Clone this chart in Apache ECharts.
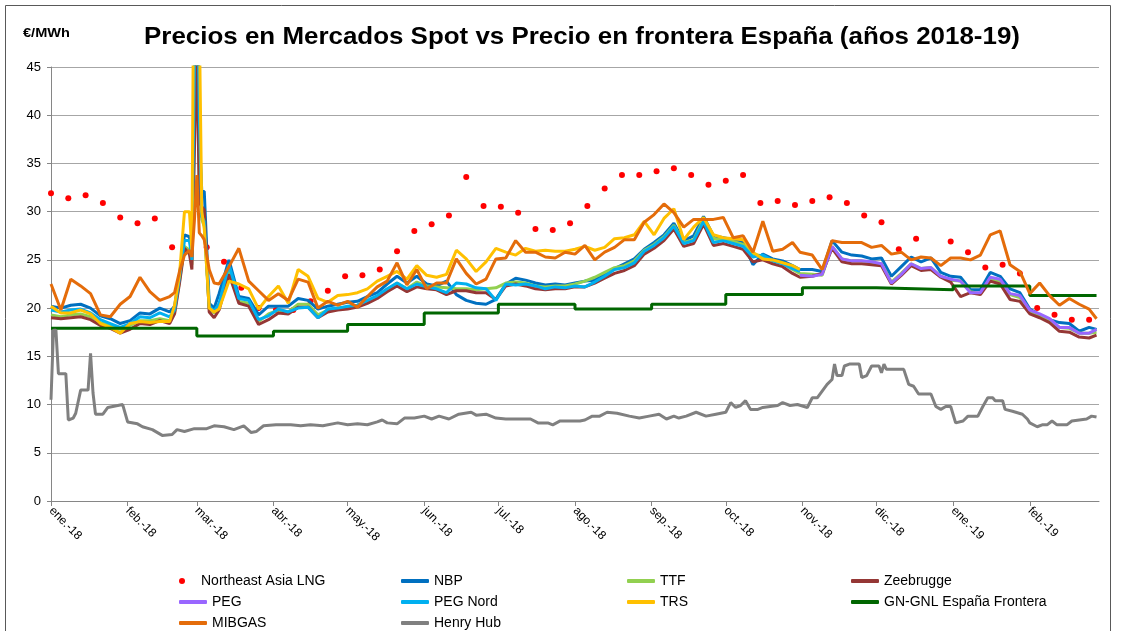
<!DOCTYPE html>
<html>
<head>
<meta charset="utf-8">
<title>Precios en Mercados Spot vs Precio en frontera España</title>
<script src="https://cdn.jsdelivr.net/npm/echarts@6/dist/echarts.min.js"></script>
<style>
	html, body { margin: 0; padding: 0; background: #fff; }
	#chartDiv { width: 1129px; height: 631px; }
</style>
</head>
<body>
<div id="chartDiv"></div>
<script>
	// dias contados desde el 1 de enero de 2018
	var monthStart = [0, 31, 59, 90, 120, 151, 181, 212, 243, 273, 304, 334, 365, 396];
	var monthLabels = ['ene.-18', 'feb.-18', 'mar.-18', 'abr.-18', 'may.-18', 'jun.-18', 'jul.-18',
		'ago.-18', 'sep.-18', 'oct.-18', 'nov.-18', 'dic.-18', 'ene.-19', 'feb.-19'];
	var lastDay = 424;

	// dias de muestreo de los hubs europeos y MIBGAS
	var hubDays = [0, 4, 8, 12, 16, 20, 24, 28, 32, 36, 40, 44, 48,
		50, 52, 54, 56, 57, 58, 59, 60, 61, 62, 64, 66, 68,
		72, 76, 80, 84, 88, 92, 96, 100, 104, 108,
		112, 116, 120, 124, 128, 132, 136, 140, 144, 148,
		152, 156, 160, 164, 168, 172, 176, 180, 184, 188,
		192, 196, 200, 204, 208, 212, 216, 220, 224, 228,
		232, 236, 240, 244, 248, 252, 256, 260, 264, 268,
		272, 276, 280, 284, 288, 292, 296, 300, 303,
		308, 312, 316, 320, 324, 328, 332, 336, 340, 344,
		348, 352, 356, 360, 364, 368, 372, 376, 380, 384,
		388, 392, 396, 400, 404, 408, 412, 416, 420, 423];

	var nbp = [20.2, 20.0, 20.3, 20.4, 20.0, 19.2, 18.9, 18.4, 18.7, 19.5, 19.4, 20.0, 19.6,
		20.2, 23.5, 27.6, 27.4, 25.5, 42, 55, 38, 32.1, 32.1, 20.5, 20.0, 21.5,
		25.0, 21.2, 21.0, 19.3, 20.2, 20.2, 20.2, 21.0, 20.8, 19.9,
		20.2, 20.4, 20.6, 20.7, 21.2, 21.6, 22.5, 23.3, 22.6, 23.3,
		22.5, 22.3, 22.8, 21.4, 20.8, 20.5, 20.4, 20.9, 22.5, 23.1,
		22.9, 22.6, 22.4, 22.5, 22.4, 22.6, 22.8, 22.9, 23.5, 24.1,
		24.6, 25.1, 26.1, 26.8, 27.6, 28.8, 27.0, 27.5, 29.5, 27.5,
		27.3, 27.1, 26.8, 24.5, 25.6, 25.1, 24.9, 24.4, 24.0,
		24.0, 23.8, 27.0, 25.8, 25.5, 25.4, 25.1, 25.2, 23.3, 24.3,
		25.3, 24.8, 25.2, 23.7, 23.3, 23.2, 21.9, 21.9, 23.7, 23.3,
		22.0, 21.6, 19.9, 19.3, 18.8, 18.5, 18.4, 17.6, 18.0, 17.8];

	var ttf = [19.3, 19.1, 19.3, 19.4, 19.1, 18.5, 18.2, 17.8, 18.2, 18.7, 18.7, 18.9, 18.7,
		19.6, 22.8, 26.4, 26.0, 24.5, 38, 50, 33, 29.2, 28.5, 19.9, 19.5, 20.0,
		23.8, 20.7, 20.5, 18.6, 19.4, 19.8, 19.6, 20.4, 20.4, 19.3,
		19.8, 20.0, 20.1, 20.3, 20.7, 21.2, 21.9, 22.6, 22.0, 22.7,
		22.3, 22.2, 22.1, 22.0, 22.0, 21.9, 22.0, 22.1, 22.6, 22.7,
		22.6, 22.3, 22.2, 22.3, 22.3, 22.5, 22.8, 23.2, 23.7, 24.2,
		24.4, 24.9, 26.0, 26.6, 27.4, 28.6, 26.8, 27.1, 29.2, 27.2,
		27.1, 26.9, 26.6, 25.6, 25.4, 24.9, 24.6, 24.0, 23.6,
		23.5, 23.4, 26.4, 25.1, 24.9, 24.9, 24.7, 24.6, 22.7, 23.6,
		24.6, 24.1, 24.2, 23.3, 22.9, 22.8, 21.7, 21.5, 23.0, 22.8,
		21.4, 21.1, 19.7, 19.2, 18.7, 18.0, 17.9, 17.4, 17.4, 17.5];

	var zeebrugge = [19.0, 18.9, 19.0, 19.1, 18.8, 18.2, 17.9, 17.4, 17.8, 18.4, 18.3, 18.7, 18.4,
		19.4, 22.6, 26.2, 25.6, 24.0, 36, 48, 31, 30.5, 30.2, 19.6, 19.0, 19.8,
		23.5, 20.5, 20.2, 18.3, 18.8, 19.5, 19.4, 20.1, 20.1, 19.0,
		19.6, 19.8, 19.9, 20.1, 20.5, 21.0, 21.7, 22.3, 21.7, 22.2,
		22.0, 21.9, 21.4, 21.8, 21.8, 21.6, 21.6, 20.9, 22.3, 22.5,
		22.3, 22.0, 21.9, 22.0, 22.0, 22.2, 22.2, 22.6, 23.1, 23.6,
		23.9, 24.4, 25.6, 26.2, 27.0, 28.2, 26.4, 26.7, 28.7, 26.5,
		26.7, 26.4, 26.1, 24.8, 25.0, 24.6, 24.3, 23.6, 23.2,
		23.3, 23.6, 26.2, 24.8, 24.6, 24.6, 24.5, 24.4, 22.5, 23.4,
		24.4, 23.9, 24.0, 23.2, 22.7, 21.2, 21.6, 21.4, 22.8, 22.5,
		20.9, 20.7, 19.4, 19.0, 18.5, 17.6, 17.5, 17.0, 16.9, 17.2];

	// PEG Nord y TRS hasta el 31/10/2018 (dia 303), PEG desde entonces
	var pegNord = [19.8, 19.6, 19.8, 19.9, 19.5, 18.8, 18.4, 18.0, 18.4, 19.1, 19.0, 19.5, 19.1,
		19.8, 23.2, 27.0, 27.0, 25.0, 45, 62, 40, 29.5, 29.0, 20.2, 19.7, 20.5,
		24.5, 21.0, 20.8, 18.8, 19.2, 19.9, 19.6, 20.0, 20.1, 19.0,
		19.9, 20.0, 20.2, 20.3, 20.8, 21.3, 22.0, 22.6, 22.0, 22.5,
		22.2, 22.0, 21.6, 22.6, 22.5, 22.1, 22.0, 20.8, 22.5, 22.4,
		22.5, 22.3, 22.0, 22.2, 22.1, 22.3, 22.2, 22.7, 23.3, 24.0,
		24.2, 24.7, 25.9, 26.5, 27.3, 28.5, 26.7, 27.0, 29.0, 26.8,
		27.0, 26.7, 26.4, 25.3, 25.5, 24.9, 24.6, 24.1, 23.8];

	var trs = [20.2, 19.5, 19.5, 19.8, 19.4, 18.4, 18.0, 17.4, 18.4, 18.6, 18.5, 18.6, 18.6,
		20.3, 23.5, 30.0, 30.0, 26.0, 65, 60, 50, 30.0, 28.3, 20.0, 19.6, 19.9,
		22.8, 22.5, 22.0, 19.9, 21.2, 22.3, 20.5, 24.0, 23.3, 21.0,
		20.6, 21.3, 21.4, 21.6, 22.0, 22.8, 23.3, 23.8, 23.0, 24.4,
		23.4, 23.2, 23.5, 26.0, 25.1, 23.8, 24.8, 26.2, 25.8, 25.5,
		26.2, 25.9, 26.0, 25.9, 25.9, 26.1, 26.4, 26.0, 26.3, 27.2,
		27.3, 27.6, 29.0, 27.6, 29.3, 30.3, 27.1, 28.4, 29.4, 27.6,
		27.3, 27.2, 27.1, 25.8, 25.1, 25.0, 24.7, 24.4, 24.0];

	var pegFirstDay = 303;
	var peg = [23.4,
		23.3, 23.5, 26.4, 25.1, 24.9, 24.9, 24.8, 24.6, 22.6, 23.5,
		24.6, 24.1, 24.2, 23.3, 23.0, 22.8, 21.6, 21.6, 23.2, 23.0,
		21.5, 21.3, 19.8, 19.4, 18.9, 18.0, 18.0, 17.4, 17.4, 17.8];

	var mibgas = [22.5, 19.8, 23.0, 22.3, 21.5, 19.3, 19.1, 20.4, 21.2, 23.2, 21.7, 20.8, 21.2,
		21.6, 23.8, 25.5, 26.0, 25.3, 29.0, 33.8, 27.8, 27.5, 27.1, 24.0, 22.6, 22.5,
		24.3, 26.2, 22.8, 21.8, 20.8, 21.5, 20.8, 23.0, 22.7, 20.0,
		20.7, 20.3, 20.7, 20.1, 21.2, 22.2, 22.8, 24.7, 22.4, 24.0,
		22.0, 22.6, 22.6, 25.1, 23.6, 22.5, 23.0, 25.1, 25.2, 27.0,
		25.8, 25.8, 25.3, 25.2, 25.8, 25.6, 26.5, 25.0, 25.8, 26.3,
		27.1, 27.1, 28.9, 29.7, 30.8, 29.9, 28.4, 29.2, 29.2, 29.2,
		29.4, 27.3, 27.5, 25.8, 29.0, 25.9, 26.1, 26.8, 25.8,
		25.5, 24.0, 27.0, 26.8, 26.8, 26.8, 26.3, 26.5, 25.6, 25.8,
		25.0, 25.3, 25.2, 24.4, 25.2, 25.2, 25.0, 25.5, 27.6, 28.0,
		24.5, 23.8, 21.5, 22.6, 21.3, 20.3, 21.0, 20.4, 19.9, 18.9];

	// precio en frontera, un valor por mes
	var gnFrontera = [17.9, 17.9, 17.1, 17.6, 18.3, 19.5, 20.4, 19.9, 20.4, 21.4, 22.1, 21.9, 22.3, 21.3];

	var hhDays = [0, 1, 2, 3, 6, 7, 9, 10, 12, 15,
		16, 17, 18, 21, 23, 29, 31, 35, 37, 41,
		45, 49, 51, 54, 58, 63, 66, 70, 74, 78,
		81, 83, 86, 91, 97, 101, 105, 110, 116, 120,
		124, 128, 132, 134, 136, 140, 143, 147, 151, 154,
		157, 161, 165, 170, 172, 176, 180, 184, 190, 194,
		197, 201, 203, 206, 214, 216, 219, 222, 225, 229,
		234, 238, 242, 246, 249, 252, 254, 257, 261, 265,
		269, 273, 275, 277, 279, 281, 283, 286, 288, 294,
		296, 299, 302, 306, 308, 310, 312, 314, 316, 317,
		318, 320, 321, 323, 327, 328, 330, 332, 335, 336,
		337, 338, 345, 347, 349, 351, 356, 358, 360, 362,
		364, 366, 369, 371, 375, 377, 379, 381, 382, 385,
		386, 389, 391, 393, 395, 396, 399, 401, 403, 405,
		407, 411, 413, 416, 419, 421, 423];
	var henryHub = [10.5, 17.7, 17.7, 13.2, 13.2, 8.4, 8.6, 9.1, 11.5, 11.5,
		15.3, 11.2, 9.0, 9.0, 9.7, 10.0, 8.2, 8.0, 7.7, 7.4,
		6.8, 6.9, 7.4, 7.2, 7.5, 7.5, 7.8, 7.7, 7.4, 7.8,
		7.1, 7.2, 7.8, 7.9, 7.9, 7.8, 7.9, 7.8, 8.1, 7.9,
		8.0, 7.9, 8.2, 8.4, 8.1, 8.0, 8.6, 8.6, 8.8, 8.5,
		8.8, 8.5, 9.0, 9.2, 8.9, 9.0, 8.6, 8.5, 8.5, 8.5,
		8.1, 8.1, 7.9, 8.3, 8.3, 8.4, 8.8, 8.8, 9.2, 9.1,
		8.8, 8.6, 8.8, 9.0, 8.5, 8.8, 8.6, 8.8, 9.2, 8.8,
		9.0, 9.2, 10.2, 9.7, 9.9, 10.4, 9.5, 9.5, 9.7, 9.9,
		10.2, 9.9, 10.0, 9.7, 10.7, 10.7, 11.4, 12.1, 12.6, 14.2,
		13.0, 13.0, 14.0, 14.2, 14.2, 12.8, 13.0, 14.0, 14.0, 13.3,
		14.2, 13.65, 13.65, 12.1, 11.9, 11.1, 11.1, 9.8, 9.5, 9.8,
		9.8, 8.1, 8.3, 8.8, 8.8, 9.8, 10.7, 10.7, 10.4, 10.4,
		9.5, 9.3, 9.15, 9.0, 8.5, 8.1, 7.7, 7.9, 7.9, 8.3,
		7.9, 7.9, 8.3, 8.4, 8.5, 8.8, 8.7];

	// GNL Asia: un dato por semana desde el dia 0 (null = oculto tras otras series)
	var lngStep = 7;
	var lngAsia = [31.9, 31.4, 31.7, 30.9, 29.4, 28.8, 29.3, 26.3, null, 26.3,
		24.8, 22.1, 20.0, 19.8, 19.8, 20.7, 21.8, 23.3, 23.4, 24.0,
		25.9, 28.0, 28.7, 29.6, 33.6, 30.6, 30.5, 29.9, 28.2, 28.1,
		28.8, 30.6, 32.4, 33.8, 33.8, 34.2, 34.5, 33.8, 32.8, 33.2,
		33.8, 30.9, 31.1, 30.7, 31.1, 31.5, 30.9, 29.6, 28.9, 26.1,
		27.2, null, 26.9, 25.8, 24.2, 24.5, 23.6, 20.0, 19.3, 18.8,
		18.8];

	var FONT = 'Liberation Sans, Arial, sans-serif';

	function pairs(days, values, offset) {
		var out = [];
		for (var i = 0; i < values.length; i++) {
			out.push([days[i + offset], values[i]]);
		}
		return out;
	}

	function lineSeries(name, data, color, step) {
		return {
			name: name,
			type: 'line',
			data: data,
			step: step || false,
			showSymbol: false,
			symbol: 'none',
			lineStyle: { width: 3, color: color },
			itemStyle: { color: color },
			emphasis: { disabled: true },
			silent: true
		};
	}

	var lngData = [];
	for (var k = 0; k < lngAsia.length; k++) {
		if (lngAsia[k] !== null) lngData.push([k * lngStep, lngAsia[k]]);
	}
	var gnData = pairs(monthStart, gnFrontera, 0);
	gnData.push([hubDays[hubDays.length - 1], gnFrontera[gnFrontera.length - 1]]);
	var pegOffset = hubDays.indexOf(pegFirstDay);

	function legendCol(names, left, top, icon, h) {
		return {
			data: names,
			orient: 'vertical',
			left: left,
			top: top,
			padding: 0,
			itemGap: 7,
			itemWidth: 28,
			itemHeight: h,
			icon: icon,
			selectedMode: false,
			textStyle: { fontFamily: FONT, fontSize: 14, color: '#000' }
		};
	}

	var chart = echarts.init(document.getElementById('chartDiv'));
	chart.setOption({
		animation: false,
		backgroundColor: '#fff',
		textStyle: { fontFamily: FONT },
		grid: { left: 51, right: 30, top: 67, bottom: 130 },
		graphic: [{
			type: 'rect',
			shape: { x: 5.5, y: 5.5, width: 1105, height: 700 },
			style: { fill: 'none', stroke: '#595959', lineWidth: 1 },
			silent: true
		}, {
			type: 'text',
			x: 582,
			y: 25,
			scaleX: 1.08,
			originX: 0,
			style: {
				text: 'Precios en Mercados Spot vs Precio en frontera España (años 2018-19)',
				font: 'bold 24px ' + FONT,
				fill: '#000',
				align: 'center',
				textAlign: 'center',
				verticalAlign: 'top',
				textVerticalAlign: 'top'
			}
		}, {
			type: 'text',
			x: 23,
			y: 27,
			scaleX: 1.12,
			originX: 0,
			style: {
				text: '€/MWh',
				font: 'bold 13px ' + FONT,
				fill: '#000'
			}
		}],
		legend: [
			legendCol(['Northeast Asia LNG'], 179, 574, 'circle', 6),
			legendCol(['PEG', 'MIBGAS'], 179, 595, 'roundRect', 4),
			legendCol(['NBP', 'PEG Nord', 'Henry Hub'], 401, 574, 'roundRect', 4),
			legendCol(['TTF', 'TRS'], 627, 574, 'roundRect', 4),
			legendCol(['Zeebrugge', 'GN-GNL España Frontera'], 851, 574, 'roundRect', 4)
		],
		xAxis: {
			type: 'value',
			min: 0,
			max: lastDay,
			axisLine: { lineStyle: { color: '#868686', width: 1 } },
			axisTick: { show: true, customValues: monthStart, length: 5, lineStyle: { color: '#868686' } },
			axisLabel: {
				customValues: monthStart,
				rotate: -45,
				margin: 8,
				fontSize: 12,
				color: '#000',
				formatter: function (v) {
					var i = monthStart.indexOf(v);
					return i < 0 ? '' : monthLabels[i];
				}
			},
			splitLine: { show: false }
		},
		yAxis: {
			type: 'value',
			min: 0,
			max: 45,
			interval: 5,
			axisLine: { show: true, lineStyle: { color: '#868686', width: 1 } },
			axisTick: { show: true, length: 4, lineStyle: { color: '#868686' } },
			axisLabel: { fontSize: 13, color: '#000', margin: 10 },
			splitLine: { lineStyle: { color: '#A6A6A6', width: 1 } }
		},
		series: [
			{
				name: 'Northeast Asia LNG',
				type: 'scatter',
				data: lngData,
				symbol: 'circle',
				symbolSize: 6,
				itemStyle: { color: '#FF0000', opacity: 1 },
				emphasis: { disabled: true },
				silent: true
			},
			lineSeries('NBP', pairs(hubDays, nbp, 0), '#0070C0'),
			lineSeries('TTF', pairs(hubDays, ttf, 0), '#92D050'),
			lineSeries('Zeebrugge', pairs(hubDays, zeebrugge, 0), '#953735'),
			lineSeries('PEG', pairs(hubDays, peg, pegOffset), '#9966FF'),
			lineSeries('PEG Nord', pairs(hubDays, pegNord, 0), '#00B0F0'),
			lineSeries('TRS', pairs(hubDays, trs, 0), '#FFC000'),
			lineSeries('GN-GNL España Frontera', gnData, '#006600', 'end'),
			lineSeries('MIBGAS', pairs(hubDays, mibgas, 0), '#E46C0A'),
			lineSeries('Henry Hub', pairs(hhDays, henryHub, 0), '#808080')
		]
	});
</script>
</body>
</html>
